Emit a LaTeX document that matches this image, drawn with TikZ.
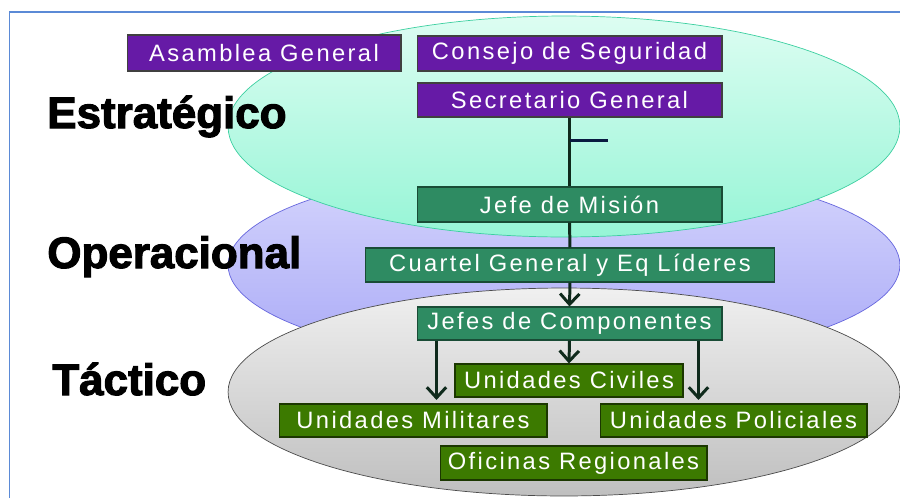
\documentclass[tikz,border=0pt]{standalone}
\usepackage{fontspec}
\setmainfont{Liberation Sans}
\newfontfamily\levelfont{Liberation Sans Bold}[FakeBold=2.5]
\newfontfamily\boxfont{Liberation Sans}[LetterSpace=10]
\usetikzlibrary{shapes.geometric, arrows.meta, calc}

\definecolor{framecol}{HTML}{5B8AD6}
\definecolor{boxpurple}{HTML}{661AA6}
\definecolor{boxteal}{HTML}{2E8B62}
\definecolor{boxolive}{HTML}{3C7A00}
\definecolor{linecol}{HTML}{0F2A1C}
\definecolor{tickcol}{HTML}{0A1A40}
\definecolor{stratlight}{HTML}{DDFDF2}
\definecolor{stratdark}{HTML}{96F5D6}
\definecolor{stratedge}{HTML}{3CCFA0}
\definecolor{operlight}{HTML}{D6D6FC}
\definecolor{operdark}{HTML}{A9A9F7}
\definecolor{operedge}{HTML}{6666DD}

\tikzset{
  box/.style={draw=black!75, line width=0.6pt, inner sep=0pt, text=white,
    font=\boxfont\fontsize{13.5}{15}\selectfont},
  pbox/.style={box, fill=boxpurple},
  gbox/.style={box, fill=boxteal, draw=boxteal!55!black},
  obox/.style={box, fill=boxolive, draw=boxolive!45!black},
  level/.style={anchor=base west, inner sep=0pt, font=\levelfont\fontsize{25}{28}\selectfont},
  conn/.style={draw=linecol, line width=1.7pt},
  arr/.style={conn, -{Straight Barb[length=6pt, width=11pt, line width=1.7pt]}}
}

\begin{document}
\begin{tikzpicture}[x=0.02cm, y=-0.02cm]
      \useasboundingbox (0,0) rectangle (900,498);
      % frame
      \draw[framecol, line width=1pt] (9.5,498) -- (9.5,12) -- (900,12);

      % levels
      \draw[draw=operedge, top color=operlight, bottom color=operdark] (564,265) ellipse [x radius=6.72cm, y radius=2cm];
      \draw[draw=stratedge, top color=stratlight, bottom color=stratdark] (564,126.5) ellipse [x radius=6.72cm, y radius=2.21cm];
      \draw[draw=black!70, top color=black!6, bottom color=black!25] (564,392) ellipse [x radius=6.72cm, y radius=2.08cm];

      \node[level] (estrategico) at (47,128) {Estratégico};
      \node[level] (operacional) at (47,268) {Operacional};
      \node[level] (tactico) at (52,395) {Táctico};

      % boxes
      \node[pbox, minimum width=5.48cm, minimum height=0.72cm] (asamblea) at (264,53) {Asamblea General};
      \node[pbox, minimum width=6.1cm, minimum height=0.7cm] (consejo) at (569.5,53.5) {Consejo de Seguridad};
      \node[pbox, minimum width=6.1cm, minimum height=0.68cm] (secretario) at (569.5,100) {Secretario General};
      \node[gbox, minimum width=6.1cm, minimum height=0.7cm] (mision) at (569.5,204.5) {Jefe de Misión};
      \node[gbox, minimum width=8.2cm, minimum height=0.68cm] (cuartel) at (570,265) {Cuartel General y Eq Líderes};
      \node[gbox, minimum width=6.1cm, minimum height=0.66cm] (jefes) at (569.5,323.5) {Jefes de Componentes};
      \node[obox, minimum width=4.56cm, minimum height=0.66cm] (civiles) at (569,380.5) {Unidades Civiles};
      \node[obox, minimum width=5.36cm, minimum height=0.66cm] (militares) at (413,420.5) {Unidades Militares};
      \node[obox, minimum width=5.34cm, minimum height=0.66cm] (policiales) at (733.5,420.5) {Unidades Policiales};
      \node[obox, minimum width=5.34cm, minimum height=0.68cm] (oficinas) at (573.5,463) {Oficinas Regionales};

      % chain of command
      \draw[conn] (secretario.south) -- (mision.north);
      \draw[draw=tickcol, line width=1.7pt] ($(secretario.south)!0.34!(mision.north)$) coordinate (tick) -- ++(38,0);
      \draw[conn] (mision.south) -- (cuartel.north);
      \draw[arr] (cuartel.south) -- (jefes.north);
      \draw[arr] (jefes.south) -- (civiles.north);
      \draw[arr] ([xshift=0.4cm]jefes.south west) -- ([xshift=0.4cm,yshift=2pt]jefes.south west |- militares.north);
      \draw[arr] ([xshift=-0.48cm]jefes.south east) -- ([xshift=-0.48cm,yshift=2pt]jefes.south east |- policiales.north);
    \end{tikzpicture}
\end{document}
